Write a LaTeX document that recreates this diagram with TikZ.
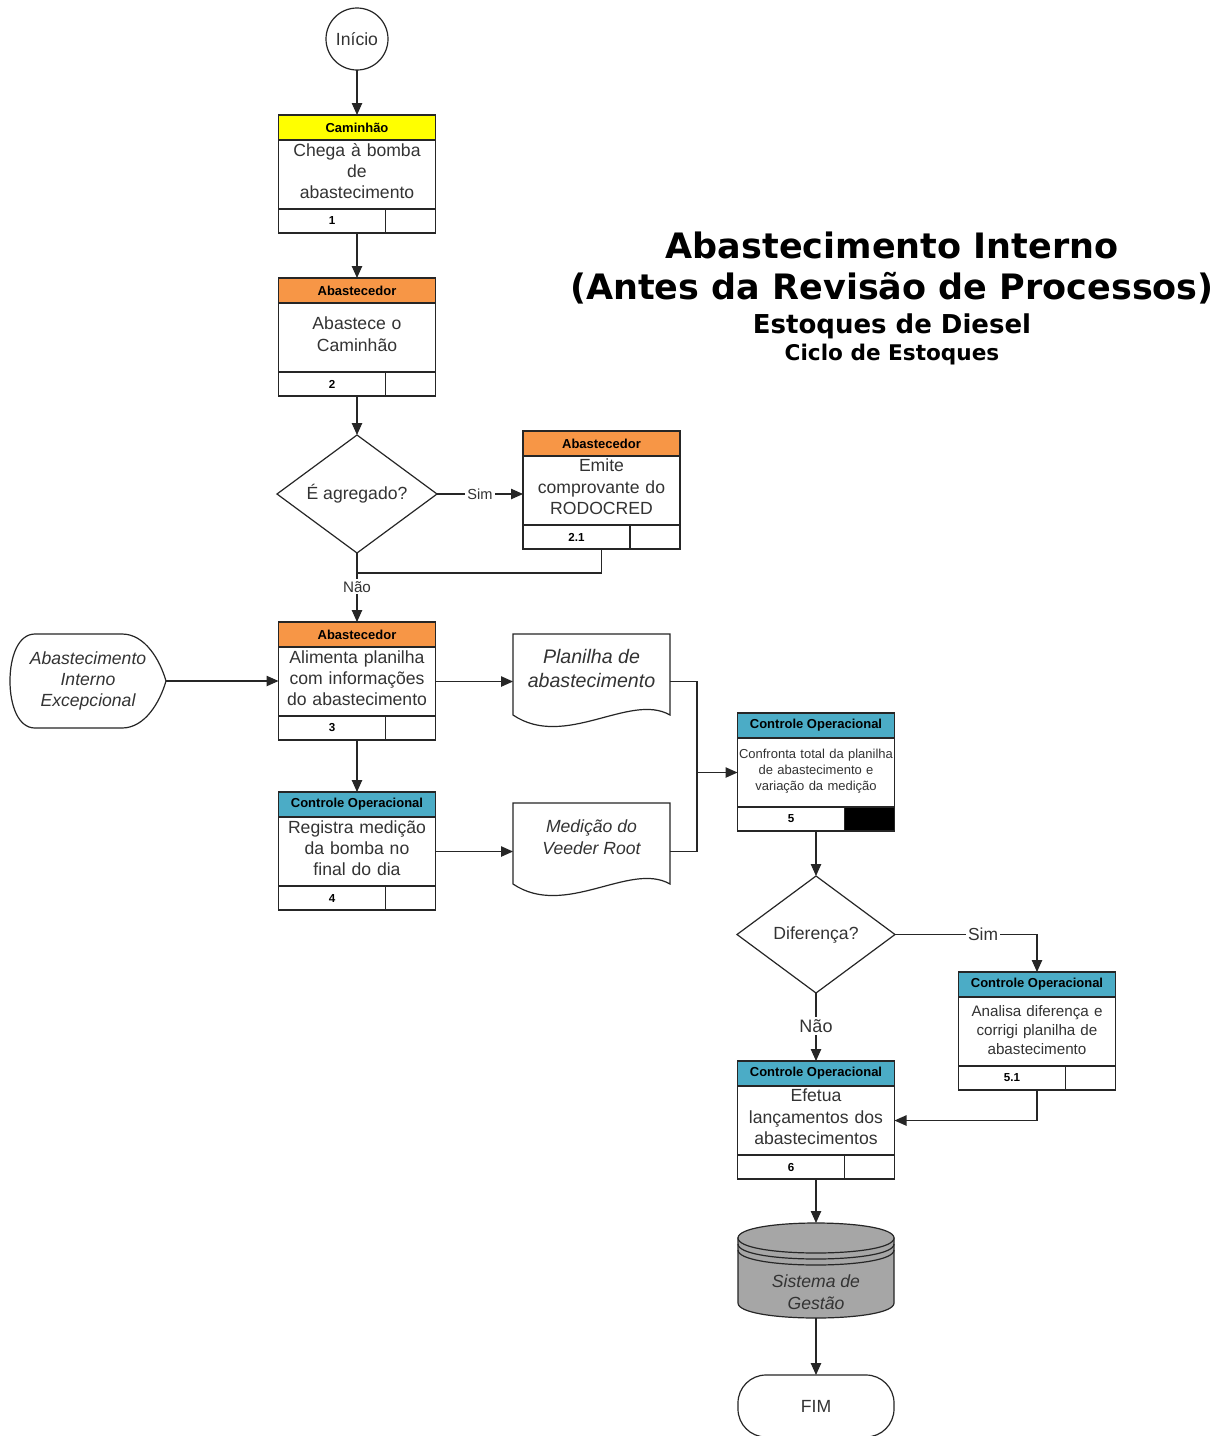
\documentclass[tikz,border=0pt]{standalone}
\usepackage{fontspec}
\setmainfont{Liberation Sans}
\newfontfamily\titlefont{DejaVu Sans}
\usetikzlibrary{shapes.geometric,arrows.meta}

\definecolor{hdryellow}{HTML}{FFFF00}
\definecolor{hdrorange}{HTML}{F79646}
\definecolor{hdrblue}{HTML}{4BACC6}
\definecolor{ink}{HTML}{333333}
\definecolor{dbgray}{HTML}{A6A6A6}

% process box: name, centre x, top y, header colour, header, body, number, body text style
\newcommand\procbox[8]{%
  \node[hdr, fill=#4, anchor=north] (#1h) at (#2,#3) {#5};
  \node[bdy, anchor=north] (#1) at (#1h.south) {};
  \node[bdytext, #8] (#1t) at (#1.center) {#6};
  \node[numcell, anchor=north west] (#1n) at (#1.south west) {#7};
  \node[blankcell, anchor=north east] (#1c) at (#1.south east) {};
}

\begin{document}
\begin{tikzpicture}[x=0.5pt,y=-0.5pt,
  line/.style={draw=black!85, line width=0.6pt},
  arr/.style={line, -{Triangle[length=6pt,width=5.2pt]}},
  part/.style={line, inner sep=0pt, outer sep=0pt},
  hdr/.style={part, minimum width=78.5pt, minimum height=12.5pt,
    font=\fontsize{6.5}{7}\selectfont\bfseries},
  bdy/.style={part, fill=white, minimum width=78.5pt, minimum height=34.5pt},
  bdytext/.style={inner sep=0pt, text width=78pt, align=center, text=ink, yshift=1.7pt,
    font=\fontsize{8.8}{10.7}\selectfont},
  smalltext/.style={yshift=-1.2pt, font=\fontsize{6.5}{8}\selectfont},
  midtext/.style={yshift=-1.2pt, font=\fontsize{7.6}{9.5}\selectfont},
  numcell/.style={part, fill=white, minimum width=53.5pt, minimum height=12pt,
    font=\fontsize{5.8}{6}\selectfont\bfseries},
  blankcell/.style={part, fill=white, minimum width=25pt, minimum height=12pt},
  decision/.style={line, diamond, aspect=1.36, minimum width=80pt, minimum height=59pt,
    inner sep=0pt, outer sep=0pt, text=ink, font=\fontsize{8.8}{10}\selectfont},
  terminal/.style={line, circle, minimum size=31pt, inner sep=0pt, outer sep=0pt, text=ink,
    font=\fontsize{8.8}{10}\selectfont},
  anchorbox/.style={minimum width=78.5pt, minimum height=10pt, inner sep=0pt, outer sep=0pt},
  doctext/.style={align=center, text=ink, font=\fontsize{8.8}{11}\selectfont\itshape},
  lbl/.style={fill=white, inner sep=1pt, text=ink},
  titletext/.style={text=black, inner sep=0pt}
]
\useasboundingbox (0,0) rectangle (1228,1436);
\fill[white] (0,0) rectangle (1228,1436);

% ---- title ----
\node[titletext, font=\titlefont\bfseries\fontsize{17.5}{20}\selectfont] (t1) at (892,245) {Abastecimento Interno};
\node[titletext, font=\titlefont\bfseries\fontsize{17.5}{20}\selectfont] (t2) at (892,288) {(Antes da Revisão de Processos)};
\node[titletext, font=\titlefont\bfseries\fontsize{13}{15}\selectfont] (t3) at (892,326) {Estoques de Diesel};
\node[titletext, font=\titlefont\bfseries\fontsize{10.8}{12}\selectfont] (t4) at (892,355) {Ciclo de Estoques};

% ---- start ----
\node[terminal] (start) at (357,39) {Início};

% ---- process boxes ----
\procbox{b1}{357}{115}{hdryellow}{Caminhão}{Chega à bomba\\de\\abastecimento}{1}{}
\procbox{b2}{357}{278}{hdrorange}{Abastecedor}{Abastece o\\Caminhão}{2}{}
\procbox{b21}{601.5}{431}{hdrorange}{Abastecedor}{Emite\\comprovante do\\RODOCRED}{2.1}{}
\procbox{b3}{357}{622}{hdrorange}{Abastecedor}{Alimenta planilha\\com informações\\do abastecimento}{3}{}
\procbox{b4}{357}{792}{hdrblue}{Controle Operacional}{Registra medição\\da bomba no\\final do dia}{4}{}
\procbox{b5}{816}{713}{hdrblue}{Controle Operacional}{Confronta total da planilha\\de abastecimento e\\variação da medição}{5}{smalltext}
\fill[black] (b5c.north west) rectangle (b5c.south east);
\draw[line] (b5c.north west) rectangle (b5c.south east);
\procbox{b51}{1037}{972}{hdrblue}{Controle Operacional}{Analisa diferença e\\corrigi planilha de\\abastecimento}{5.1}{midtext}
\procbox{b6}{816}{1061}{hdrblue}{Controle Operacional}{Efetua\\lançamentos dos\\abastecimentos}{6}{}

% ---- decisions ----
\node[decision] (d1) at (357,494) {É agregado?};
\node[decision, minimum width=79pt, minimum height=58.5pt] (d2) at (816,934.5) {Diferença?};

% ---- exceptional input ----
\draw[line, fill=white] (35,634) -- (122,634) .. controls (145,634) and (160,660) .. (166,681)
  .. controls (160,702) and (145,728) .. (122,728) -- (35,728)
  .. controls (18,728) and (10,705) .. (10,681) .. controls (10,657) and (18,634) .. (35,634) -- cycle;
\node[anchorbox, minimum width=78pt, minimum height=47pt, align=center, text=ink,
  font=\fontsize{8.8}{10.7}\selectfont\itshape] (exc) at (88,681) {Abastecimento\\Interno\\Excepcional};

% ---- documents ----
\draw[line, fill=white] (513,634) -- (670,634) -- (670,715)
  .. controls (630,692) and (565,750) .. (513,715) -- cycle;
\node[anchorbox] (doc1) at (591.5,681.5) {};
\node[doctext, font=\fontsize{9.8}{12}\selectfont\itshape] (doc1t) at (591.5,668) {Planilha de\\abastecimento};

\draw[line, fill=white] (513,803) -- (670,803) -- (670,884)
  .. controls (630,861) and (565,919) .. (513,884) -- cycle;
\node[anchorbox] (doc2) at (591.5,851.5) {};
\node[doctext] (doc2t) at (591.5,837) {Medição do\\Veeder Root};

% ---- database ----
\draw[line, fill=dbgray] (738,1238) -- (738,1303) .. controls (738,1323) and (894,1323) .. (894,1303)
  -- (894,1238) -- cycle;
\draw[line, fill=dbgray] (738,1238) .. controls (738,1218) and (894,1218) .. (894,1238)
  .. controls (894,1258) and (738,1258) .. (738,1238) -- cycle;
\draw[line] (738,1244) .. controls (738,1264) and (894,1264) .. (894,1244);
\draw[line] (738,1250) .. controls (738,1270) and (894,1270) .. (894,1250);
\node[anchorbox, minimum width=78pt, minimum height=47.5pt] (db) at (816,1270.5) {};
\node[doctext] (dbt) at (816,1292) {Sistema de\\Gestão};

% ---- end ----
\node[line, rounded corners=14pt, minimum width=78pt, minimum height=31pt, inner sep=0pt,
  outer sep=0pt, text=ink, font=\fontsize{8.8}{10}\selectfont] (fim) at (816,1406) {FIM};

% ---- connectors ----
\coordinate (j1) at (357,573);
\coordinate (m) at (697,772.5);

\draw[arr] (start.south) -- (start.south |- b1h.north);
\draw[arr] (b1.south |- b1n.south) -- (b2h.north);
\draw[arr] (b2.south |- b2n.south) -- (d1.north);
\draw[arr] (d1.east) -- node[lbl, font=\fontsize{7.3}{8}\selectfont, pos=0.5] {Sim} (d1.east -| b21.west);
\draw[line] (b21.south |- b21n.south) |- (j1);
\draw[arr] (d1.south) -- node[lbl, font=\fontsize{7.6}{8}\selectfont, pos=0.49] {Não} (b3h.north);
\draw[arr] (exc.east) -- (exc.east -| b3.west);
\draw[arr] (b3.east) -- (b3.east -| doc1.west);
\draw[arr] (b3.south |- b3n.south) -- (b4h.north);
\draw[arr] (b4.east) -- (b4.east -| doc2.west);
\draw[line] (doc1.east) -| (m);
\draw[line] (doc2.east) -| (m);
\draw[arr] (m) -- (m -| b5.west);
\draw[arr] (b5.south |- b5n.south) -- (d2.north);
\draw[arr] (d2.east) -| node[lbl, font=\fontsize{8.7}{9}\selectfont, pos=0.31] {Sim} (b51h.north);
\draw[arr] (d2.south) -- node[lbl, font=\fontsize{9}{10}\selectfont, pos=0.485] {Não} (b6h.north);
\draw[arr] (b51.south |- b51n.south) |- (b6.east);
\draw[arr] (b6.south |- b6n.south) -- (db.north);
\draw[arr] (db.south) -- (fim.north);
\end{tikzpicture}
\end{document}
